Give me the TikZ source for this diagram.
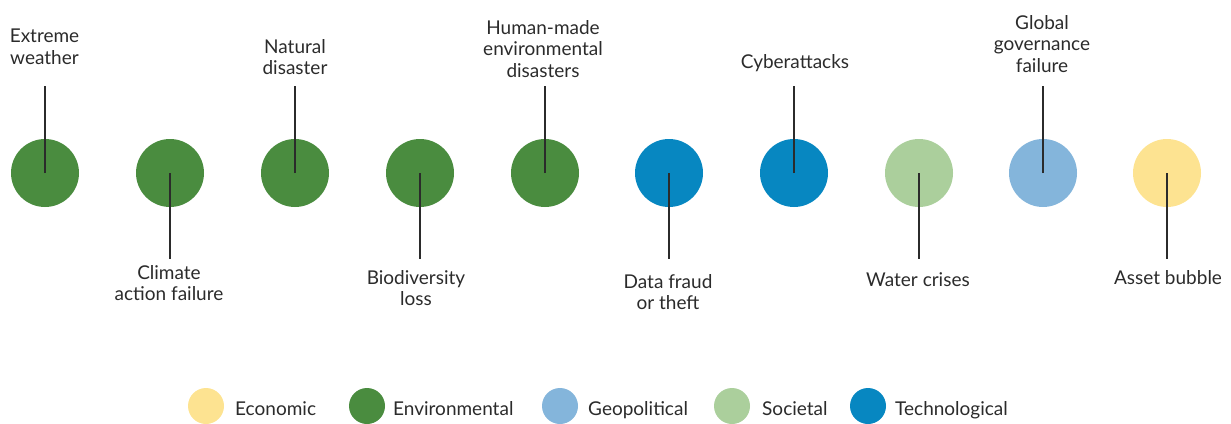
\documentclass[tikz,border=0pt]{standalone}
\usepackage{fontspec}
\setmainfont{Lato}
\definecolor{env}{HTML}{4A8C3F}
\definecolor{tech}{HTML}{0787C1}
\definecolor{soc}{HTML}{ABCF9C}
\definecolor{geo}{HTML}{84B5DB}
\definecolor{eco}{HTML}{FDE391}
\definecolor{txt}{HTML}{2B2B2B}
\begin{document}
\begin{tikzpicture}[x=1pt,y=-1pt,
  risk/.style={circle,minimum size=68pt,inner sep=0pt,fill=#1},
  lbl/.style={align=center,font=\fontsize{19}{21.5}\selectfont,text=txt,inner sep=0pt},
  lead/.style={draw=txt,line width=1.3pt},
  key/.style={circle,minimum size=36pt,inner sep=0pt,fill=#1},
  keytext/.style={anchor=base west,font=\fontsize{19}{21.5}\selectfont,text=txt,inner sep=0pt}]
\useasboundingbox (0,0) rectangle (1231,423);
\coordinate (top) at (0,86);
\coordinate (bot) at (0,259);
% circles
\node[risk=env]  (c1)  at (45,173) {};
\node[risk=env]  (c2)  at (170,173) {};
\node[risk=env]  (c3)  at (295,173) {};
\node[risk=env]  (c4)  at (420,173) {};
\node[risk=env]  (c5)  at (545,173) {};
\node[risk=tech] (c6)  at (669,173) {};
\node[risk=tech] (c7)  at (794,173) {};
\node[risk=soc]  (c8)  at (919,173) {};
\node[risk=geo]  (c9)  at (1043,173) {};
\node[risk=eco]  (c10) at (1167,173) {};
% labels
\node[lbl] (l1)  at (44.5,47) {Extreme\\weather};
\node[lbl] (l2)  at (169,283) {Climate\\action failure};
\node[lbl] (l3)  at (295,57) {Natural\\disaster};
\node[lbl] (l4)  at (416,288) {Biodiversity\\loss};
\node[lbl] (l5)  at (543,49) {Human-made\\environmental\\disasters};
\node[lbl] (l6)  at (668,292) {Data fraud\\or theft};
\node[lbl] (l7)  at (795,63) {Cyberattacks};
\node[lbl] (l8)  at (918,280) {Water crises};
\node[lbl] (l9)  at (1042,44) {Global\\governance\\failure};
\node[lbl] (l10) at (1168,278) {Asset bubble};
% leader lines
\draw[lead] (c1.center) -- (c1.center |- top);
\draw[lead] (c2.center) -- (c2.center |- bot);
\draw[lead] (c3.center) -- (c3.center |- top);
\draw[lead] (c4.center) -- (c4.center |- bot);
\draw[lead] (c5.center) -- (c5.center |- top);
\draw[lead] (c6.center) -- (c6.center |- bot);
\draw[lead] (c7.center) -- (c7.center |- top);
\draw[lead] (c8.center) -- (c8.center |- bot);
\draw[lead] (c9.center) -- (c9.center |- top);
\draw[lead] (c10.center) -- (c10.center |- bot);
% legend
\node[key=eco]  (k1) at (206,406) {};
\node[keytext]  (t1) at (235,415) {Economic};
\node[key=env]  (k2) at (367,406) {};
\node[keytext]  (t2) at (393,415) {Environmental};
\node[key=geo]  (k3) at (560,406) {};
\node[keytext]  (t3) at (588,415) {Geopolitical};
\node[key=soc]  (k4) at (732,406) {};
\node[keytext]  (t4) at (762,415) {Societal};
\node[key=tech] (k5) at (868,406) {};
\node[keytext]  (t5) at (895,415) {Technological};
\end{tikzpicture}
\end{document}
